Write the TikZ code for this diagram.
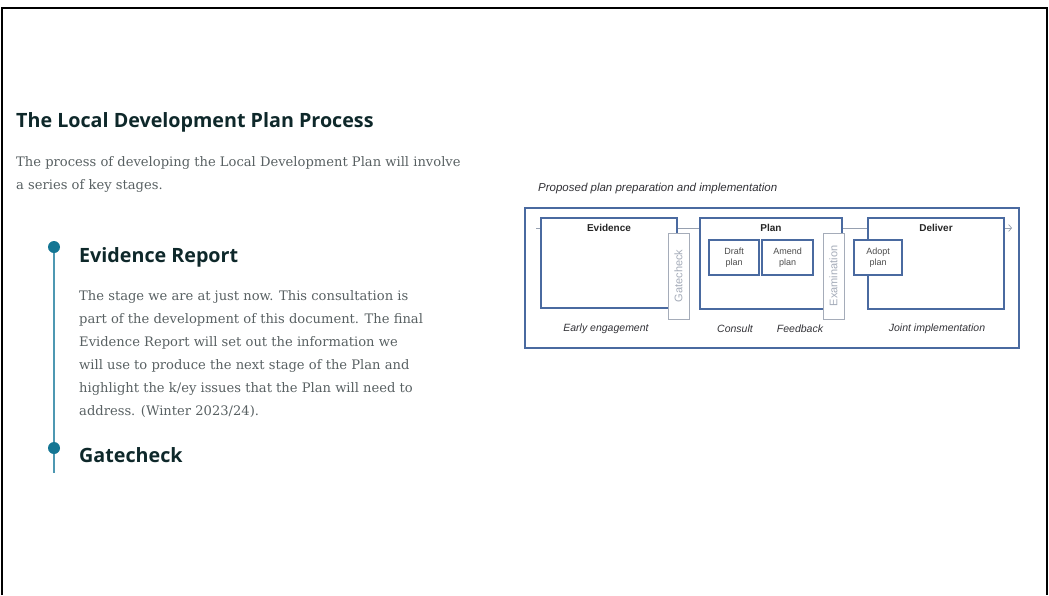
\documentclass[tikz,border=0pt]{standalone}
\usepackage{fontspec}
\setmainfont{DejaVu Serif}
\newfontfamily\headfont{Open Sans}
\newfontfamily\chartfont{Liberation Sans}
\usepackage{xcolor}
\definecolor{ldpdark}{RGB}{14,40,42}
\definecolor{ldpgrey}{RGB}{88,96,98}
\definecolor{ldpteal}{RGB}{20,118,148}
\definecolor{ldpline}{RGB}{78,152,178}
\definecolor{ldpblue}{RGB}{74,106,160}
\definecolor{ldppale}{RGB}{165,172,185}
\definecolor{ldpflow}{RGB}{150,160,176}
\definecolor{ldpcaption}{RGB}{50,50,55}
\usetikzlibrary{arrows.meta}

\begin{document}
\begin{tikzpicture}[x=1pt, y=-1pt,
    heading/.style={anchor=base west, inner sep=0pt, text=ldpdark, font=\headfont\bfseries\fontsize{19.7}{23}\selectfont},
    bodytext/.style={anchor=base west, inner sep=0pt, align=left, text=ldpgrey, font=\fontsize{13.1}{23}\selectfont},
    dot/.style={circle, fill=ldpteal, minimum size=12pt, inner sep=0pt},
    stagebox/.style={draw=ldpblue, line width=1.4pt, fill=white, inner sep=0pt},
    checkbox/.style={draw=ldppale, line width=0.9pt, fill=white, rotate=90, minimum width=86pt, minimum height=21pt, inner sep=0pt, text=ldppale, font=\chartfont\fontsize{11}{12}\selectfont},
    boxtitle/.style={font=\chartfont\bfseries\fontsize{10}{12}\selectfont, text=black!85},
    smallbox/.style={stagebox, minimum height=35pt, align=center, text=black!70, font=\chartfont\fontsize{9}{11}\selectfont},
    phase/.style={font=\chartfont\itshape\fontsize{10.5}{12}\selectfont, text=ldpcaption}]

  \useasboundingbox (0,0) rectangle (1049,595);
  \draw[line width=2.5pt] (2,595) -- (2,8) -- (1047,8) -- (1047,595);

  % left column
  \node[heading] (title) at (16,127) {The Local Development Plan Process};
  \node[bodytext] (intro) at (16,189) {The process of developing the Local Development Plan will involve\\a series of key stages.};

  \node[dot] (dotone) at (54,247) {};
  \node[dot] (dottwo) at (54,448) {};
  \coordinate (timeend) at (54,473);
  \draw[ldpline, line width=1.6pt] (dotone) -- (dottwo) -- (timeend);

  \node[heading] (evreport) at (79,262) {Evidence Report};
  \node[bodytext] (evtext) at (79,415) {The stage we are at just now. This consultation is\\part of the development of this document. The final\\Evidence Report will set out the information we\\will use to produce the next stage of the Plan and\\highlight the k/ey issues that the Plan will need to\\address. (Winter 2023/24).};
  \node[heading] (gatehead) at (79,462) {Gatecheck};

  % right: plan preparation diagram
  \node[anchor=base west, inner sep=0pt, phase, font=\chartfont\itshape\fontsize{11.5}{13}\selectfont] (caption) at (538,191) {Proposed plan preparation and implementation};
  \node[draw=ldpblue, line width=1.4pt, minimum width=494pt, minimum height=140pt] (outer) at (772,278) {};

  \coordinate (flowin) at (536,228);
  \coordinate (flowout) at (1012,228);
  \draw[ldpflow, line width=0.7pt, -{Straight Barb[length=3pt,width=7pt]}] (flowin) -- (flowout);

  \node[stagebox, minimum width=136pt, minimum height=90pt] (evidence) at (609,263) {};
  \node[boxtitle] (evtitle) at (609,228) {Evidence};
  \node[checkbox] (gate) at (678.5,276) {Gatecheck};

  \node[stagebox, minimum width=142pt, minimum height=91pt] (plan) at (771,263.5) {};
  \node[boxtitle] (plantitle) at (771,228) {Plan};
  \node[smallbox, minimum width=50pt] (draft) at (734,257.5) {Draft\\plan};
  \node[smallbox, minimum width=51pt] (amend) at (787.5,257.5) {Amend\\plan};
  \node[checkbox] (exam) at (833.5,276) {Examination};

  \node[stagebox, minimum width=136pt, minimum height=91pt] (deliver) at (936,263.5) {};
  \node[boxtitle] (deltitle) at (936,228) {Deliver};
  \node[smallbox, minimum width=48pt] (adopt) at (878,257.5) {Adopt\\plan};

  \node[phase] (early) at (606,329) {Early engagement};
  \node[phase] (consult) at (735,329) {Consult};
  \node[phase] (feedback) at (800,329) {Feedback};
  \node[phase] (joint) at (937,329) {Joint implementation};
\end{tikzpicture}
\end{document}
